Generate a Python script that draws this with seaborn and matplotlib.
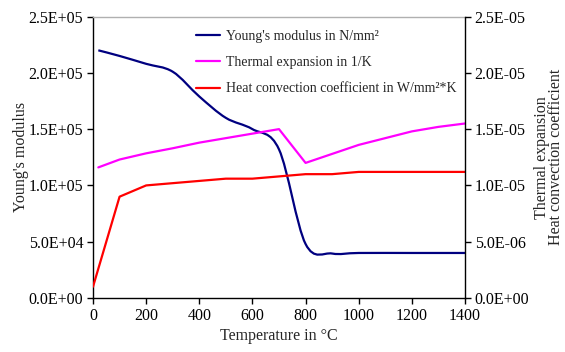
import numpy as np
import pandas as pd
import matplotlib
matplotlib.use("Agg")
import matplotlib.pyplot as plt
from matplotlib.path import Path
from matplotlib.patches import PathPatch
from matplotlib.lines import Line2D
import seaborn as sns

# Material properties versus temperature
temp_e = [20, 100, 200, 300, 400, 500, 600, 700, 800, 900, 1000, 1200, 1300, 1400]
youngs_modulus = [2.20e5, 2.15e5, 2.08e5, 2.01e5, 1.79e5, 1.60e5, 1.50e5, 1.32e5,
                  0.48e5, 0.395e5, 0.40e5, 0.40e5, 0.40e5, 0.40e5]

temp_a = [20, 100, 200, 300, 400, 500, 600, 700, 800, 900, 1000, 1200, 1300, 1400]
thermal_expansion = [1.16e-5, 1.23e-5, 1.285e-5, 1.33e-5, 1.38e-5, 1.42e-5, 1.46e-5, 1.50e-5,
                     1.20e-5, 1.28e-5, 1.36e-5, 1.48e-5, 1.52e-5, 1.55e-5]

temp_h = [0, 100, 200, 300, 400, 500, 600, 700, 800, 900, 1000, 1200, 1300, 1400]
heat_convection = [0.10e-5, 0.90e-5, 1.00e-5, 1.02e-5, 1.04e-5, 1.06e-5, 1.06e-5, 1.08e-5,
                   1.10e-5, 1.10e-5, 1.12e-5, 1.12e-5, 1.12e-5, 1.12e-5]

labels = ["Young's modulus in N/mm²", "Thermal expansion in 1/K",
          "Heat convection coefficient in W/mm²*K"]
colors = ["#000080", "#FF00FF", "#FF0000"]

sns.set_theme(style="white")
plt.rcParams["font.family"] = ["Liberation Serif", "DejaVu Serif"]
plt.rcParams["font.size"] = 11.5

fig = plt.figure(figsize=(5.65, 3.52), dpi=100)
ax = fig.add_axes([0.1646, 0.1534, 0.823 - 0.1646, 0.953 - 0.1534])
ax2 = ax.twinx()

LW = 1.6

# Young's modulus drawn as a smoothed curve through the data points
def smooth_path(xs, ys):
    xs = np.asarray(xs, float)
    ys = np.asarray(ys, float)
    n = len(xs)
    verts = [(xs[0], ys[0])]
    codes = [Path.MOVETO]
    for i in range(n - 1):
        i0 = max(i - 1, 0)
        i3 = min(i + 2, n - 1)
        c1 = (xs[i] + (xs[i + 1] - xs[i0]) / 6, ys[i] + (ys[i + 1] - ys[i0]) / 6)
        c2 = (xs[i + 1] - (xs[i3] - xs[i]) / 6, ys[i + 1] - (ys[i3] - ys[i]) / 6)
        verts += [c1, c2, (xs[i + 1], ys[i + 1])]
        codes += [Path.CURVE4] * 3
    return Path(verts, codes)

ax.add_patch(PathPatch(smooth_path(temp_e, youngs_modulus), facecolor="none",
                       edgecolor=colors[0], lw=LW, zorder=3))

df_a = pd.DataFrame({"T": temp_a, "v": thermal_expansion})
df_h = pd.DataFrame({"T": temp_h, "v": heat_convection})
sns.lineplot(data=df_a, x="T", y="v", ax=ax2, color=colors[1], lw=LW)
sns.lineplot(data=df_h, x="T", y="v", ax=ax2, color=colors[2], lw=LW)

ax.set_xlim(0, 1400)
ax.set_ylim(0, 2.5e5)
ax2.set_ylim(0, 2.5e-5)
ax.set_xticks(range(0, 1401, 200))
ax.set_yticks(np.arange(0, 2.51e5, 0.5e5))
ax2.set_yticks(np.arange(0, 2.51e-5, 0.5e-5))
ax.set_yticklabels([f"{v:.1E}" for v in ax.get_yticks()])
ax2.set_yticklabels([f"{v:.1E}" for v in ax2.get_yticks()])

for a in (ax, ax2):
    a.tick_params(direction="out", length=4, width=1, color="black",
                  labelsize=11.5, labelcolor="black", pad=3)
    for s in a.spines.values():
        s.set_visible(False)
ax.spines["left"].set_visible(True)
ax.spines["left"].set_color("black")
ax.spines["bottom"].set_visible(True)
ax.spines["bottom"].set_color("black")
ax.spines["top"].set_visible(True)
ax.spines["top"].set_color("#b0b0b0")
ax2.spines["right"].set_visible(True)
ax2.spines["right"].set_color("black")
for s in ("left", "bottom", "top"):
    ax.spines[s].set_linewidth(1)
ax2.spines["right"].set_linewidth(1)
ax.tick_params(axis="x", bottom=True, top=False)
ax.tick_params(axis="y", left=True)
ax2.tick_params(axis="y", right=True)

ax.set_xlabel("Temperature in °C", fontsize=11.5, labelpad=3)
ax.set_ylabel("Young's modulus", fontsize=11.5, labelpad=0)
ax2.set_ylabel("Thermal expansion\nHeat convection coefficient", fontsize=11.5,
               labelpad=3, linespacing=0.9)
ax2.set_xlabel("")

handles = [Line2D([], [], color=c, lw=LW) for c in colors]
ax2.legend(handles, labels, loc="upper left", bbox_to_anchor=(0.262, 0.972),
           frameon=False, fontsize=10.0, handlelength=1.7, handletextpad=0.45,
           labelspacing=0.95, borderaxespad=0)

fig.savefig("out.png", dpi=100)
